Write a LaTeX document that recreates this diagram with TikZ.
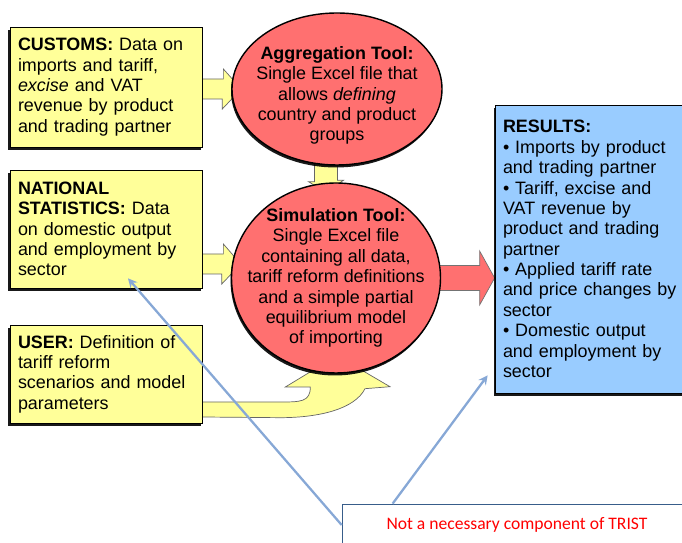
\documentclass[tikz,border=0pt]{standalone}
\usepackage{fontspec}
\setmainfont{Liberation Sans}
\newfontfamily\notefont{Carlito}
\usepackage{xcolor}
\usetikzlibrary{shapes.geometric,arrows,positioning,calc,backgrounds,shadows}

\definecolor{boxyellow}{RGB}{255,255,153}
\definecolor{toolred}{RGB}{255,112,112}
\definecolor{resblue}{RGB}{153,204,255}
\definecolor{linkblue}{RGB}{135,168,214}
\definecolor{noteframe}{RGB}{56,93,138}

\begin{document}
\begin{tikzpicture}[
    box/.style={rectangle, draw, fill=boxyellow, text width=3.52cm, inner sep=0.16cm,
                align=left, font=\fontsize{10.2}{11.6}\selectfont,
                drop shadow={shadow xshift=-0.03cm, shadow yshift=-0.06cm, fill=black, opacity=0.9}},
    res/.style={rectangle, draw, fill=resblue, text width=3.56cm, inner sep=0.16cm,
                align=left, font=\fontsize{10.2}{11.6}\selectfont,
                drop shadow={shadow xshift=-0.03cm, shadow yshift=-0.06cm, fill=black, opacity=0.9}},
    tool/.style={ellipse, draw, thick, fill=toolred,
                 drop shadow={shadow xshift=-0.02cm, shadow yshift=-0.05cm, fill=black, opacity=0.9}},
    tooltext/.style={align=center, font=\fontsize{10.2}{11.6}\selectfont},
    yarr/.style={fill=boxyellow, draw=black!60, thin},
    rarr/.style={fill=toolred, draw=black!55, thin},
    darr/.style={->, >=stealth, linkblue, line width=1.3pt},
    note/.style={rectangle, draw=noteframe, fill=white, minimum width=7cm, minimum height=0.84cm,
                 font=\notefont\fontsize{10}{12}\selectfont, text=red}
  ]

  \useasboundingbox (0,0) rectangle (13.64,10.86);
  \clip (0,0) rectangle (13.64,10.86);

  % Data sources
  \node[box, minimum height=2.4cm] (customs) at (2.12, 9.12)
    {\textbf{CUSTOMS:} Data on\\imports and tariff,\\\textit{excise} and VAT\\revenue by product\\and trading partner};
  \node[box, minimum height=2.36cm] (ns) at (2.12, 6.28)
    {\textbf{NATIONAL}\\\textbf{STATISTICS:} Data\\on domestic output\\and employment by\\sector};
  \node[box, minimum height=1.96cm] (user) at (2.12, 3.38)
    {\textbf{USER:} Definition of\\tariff reform\\scenarios and model\\parameters};

  % Tools
  \node[tool, minimum width=4.2cm, minimum height=3.04cm] (agg) at (6.74, 9.08) {};
  \node[tooltext] (aggtext) at ($(agg)+(0,-0.13)$)
    {\textbf{Aggregation Tool:}\\Single Excel file that\\allows \textit{defining}\\country and product\\groups};
  \node[tool, minimum width=4.18cm, minimum height=3.8cm] (sim) at (6.72, 5.30) {};
  \node[tooltext] (simtext) at (sim)
    {\textbf{Simulation Tool:}\\Single Excel file\\containing all data,\\tariff reform definitions\\and a simple partial\\equilibrium model\\of importing};

  % Results
  \node[res, minimum height=5.76cm] (results) at (11.84, 5.88)
    {\textbf{RESULTS:}\\\textbullet\ Imports by product\\and trading partner\\\textbullet\ Tariff, excise and\\VAT revenue by\\product and trading\\partner\\\textbullet\ Applied tariff rate\\and price changes by\\sector\\\textbullet\ Domestic output\\and employment by\\sector};

  % Block arrows
  \begin{pgfonlayer}{background}
    \filldraw[yarr] ($(customs.east |- agg.west)+(0,0.2)$) -- ++(0.42,0) -- ++(0,0.2)
      -- ($(agg.west)+(0.2,0)$) -- ++(-0.38,-0.4) -- ++(0,0.2)
      -- ($(customs.east |- agg.west)+(0,-0.2)$) -- cycle;
    \filldraw[yarr] ($(ns.east)+(0,-0.5)$) -- ++(0.42,0) -- ++(0,0.2)
      -- ($(sim.west)+(0.2,0.28)$) -- ++(-0.38,-0.4) -- ++(0,0.2)
      -- ($(ns.east)+(0,-0.9)$) -- cycle;
    \filldraw[yarr] ($(agg.south)+(-0.45,0.1)$) -- ++(0,-0.42) -- ++(-0.12,0)
      -- ($(sim.north)+(-0.2,-0.2)$) -- ++(0.35,0.24) -- ++(-0.12,0) -- ++(0,0.42) -- cycle;
    \filldraw[yarr] ($(user.east)+(0,-0.56)$) -- ++(1.56,0)
      .. controls +(0.4,0) and +(0,-0.3) .. ++(0.6,0.3) -- ++(-0.5,0)
      -- ($(sim.south)+(0.02,0.36)$) -- ++(1.06,-0.62) -- ++(-0.5,-0.04)
      .. controls +(-0.2,-0.4) and +(0.8,0) .. ++(-1.7,-0.58)
      -- ($(user.east)+(0,-0.86)$) -- cycle;
    \filldraw[rarr] ($(sim.east)+(-0.1,0.25)$) -- ($(sim.east -| results.west)+(-0.3,0.25)$)
      -- ++(0,0.29) -- (sim.east -| results.west) -- ++(-0.3,-0.54) -- ++(0,0.29)
      -- ($(sim.east)+(-0.1,-0.25)$) -- cycle;
  \end{pgfonlayer}

  % Optional components note
  \node[note] (note) at (10.34, 0.36) {Not a necessary component of TRIST};
  \coordinate (nsmark) at ($(ns.south)+(0.44,0.2)$);
  \coordinate (resmark) at ($(results.south west)+(-0.14,0.36)$);
  \draw[darr] (note.west) -- (nsmark);
  \draw[darr] ($(note.north west)+(1.02,0)$) -- (resmark);

\end{tikzpicture}
\end{document}
